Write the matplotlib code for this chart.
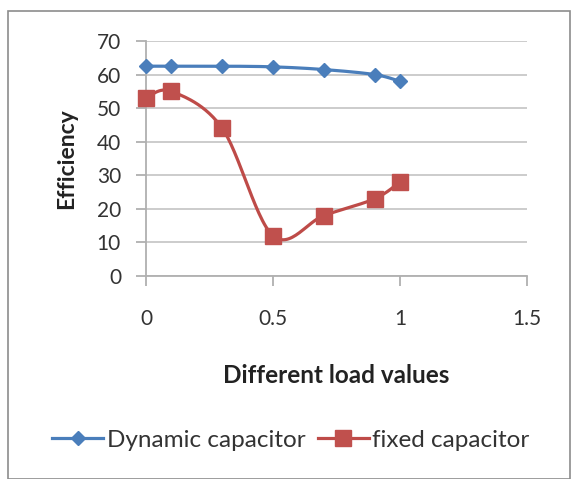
import numpy as np
import matplotlib
matplotlib.use("Agg")
import matplotlib.pyplot as plt
from matplotlib.lines import Line2D
from matplotlib.patches import Rectangle

plt.rcParams['font.family'] = ['Lato', 'DejaVu Sans']

load = [0, 0.1, 0.3, 0.5, 0.7, 0.9, 1.0]
dynamic = [62.5, 62.5, 62.5, 62.3, 61.5, 60.0, 58.0]
fixed = [53, 55, 44, 12, 18, 23, 28]
xticks = [0, 0.5, 1, 1.5]
yticks = [0, 10, 20, 30, 40, 50, 60, 70]


def smooth(x, y, n=30):
    x = np.asarray(x, float); y = np.asarray(y, float)
    px, py = [], []
    m = len(x)
    for i in range(m - 1):
        x0, y0 = (x[i - 1], y[i - 1]) if i > 0 else (x[i], y[i])
        x3, y3 = (x[i + 2], y[i + 2]) if i + 2 < m else (x[i + 1], y[i + 1])
        x1, y1, x2, y2 = x[i], y[i], x[i + 1], y[i + 1]
        c1x = x1 + (x2 - x0) / 6; c1y = y1 + (y2 - y0) / 6
        c2x = x2 - (x3 - x1) / 6; c2y = y2 - (y3 - y1) / 6
        t = np.linspace(0, 1, n)
        bx = (1-t)**3*x1 + 3*(1-t)**2*t*c1x + 3*(1-t)*t**2*c2x + t**3*x2
        by = (1-t)**3*y1 + 3*(1-t)**2*t*c1y + 3*(1-t)*t**2*c2y + t**3*y2
        px.extend(bx); py.extend(by)
    return px, py


fig = plt.figure(figsize=(5.71, 4.79), dpi=100)
fig.patches.append(Rectangle((8/571, 0), 562/571, 1 - 11/479, transform=fig.transFigure,
                             fill=False, edgecolor='#8c8c8c', linewidth=1.2, zorder=0))
ax = fig.add_axes([146/571, 1 - 276/479, 381/571, 235/479])

blue = '#4A7EBB'
red = '#BE4B48'
sx, sy = smooth(load, dynamic)
ax.plot(sx, sy, color=blue, lw=2.3, zorder=3, clip_on=False)
ax.plot(load, dynamic, ls='none', marker='D', ms=7.5, color=blue, zorder=4, clip_on=False)
sx, sy = smooth(load, fixed)
ax.plot(sx, sy, color=red, lw=2.3, zorder=3, clip_on=False)
ax.plot(load, fixed, ls='none', marker='s', ms=12, color='#C0504D', zorder=4, clip_on=False)

ax.set_xlim(0, 1.5)
ax.set_ylim(0, 70)
ax.set_xticks(xticks)
ax.set_xticklabels(['0', '0.5', '1', '1.5'])
ax.set_yticks(yticks)
ax.grid(axis='y', color='#c8c8c8', lw=1.3)
ax.set_axisbelow(True)
for s in ['top', 'right']:
    ax.spines[s].set_visible(False)
for s in ['left', 'bottom']:
    ax.spines[s].set_color('#b0b0b0')
    ax.spines[s].set_linewidth(1.3)
ax.tick_params(axis='both', colors='#b0b0b0', length=7, width=1.3, labelcolor='#333333',
               labelsize=15)
ax.tick_params(axis='x', pad=17)
ax.tick_params(axis='y', pad=11)
ax.set_xlabel('Different load values', fontsize=17.5, fontweight='bold', color='#222222', labelpad=25)
ax.set_ylabel('Efficiency', fontsize=16.5, fontweight='bold', color='#222222', labelpad=14)

handles = [Line2D([], [], color=blue, lw=2.3, marker='D', ms=7.5),
           Line2D([], [], color=red, lw=2.3, marker='s', ms=12, markerfacecolor='#C0504D',
                  markeredgecolor='#C0504D')]
fig.legend(handles, ['Dynamic capacitor', 'fixed capacitor'], loc='center',
           bbox_to_anchor=(291/571, 1 - 440/479), ncol=2, frameon=False, fontsize=17.5,
           handlelength=2.1, handletextpad=0.15, columnspacing=0.5, labelcolor='#333333')

fig.savefig('out.png', dpi=100)
